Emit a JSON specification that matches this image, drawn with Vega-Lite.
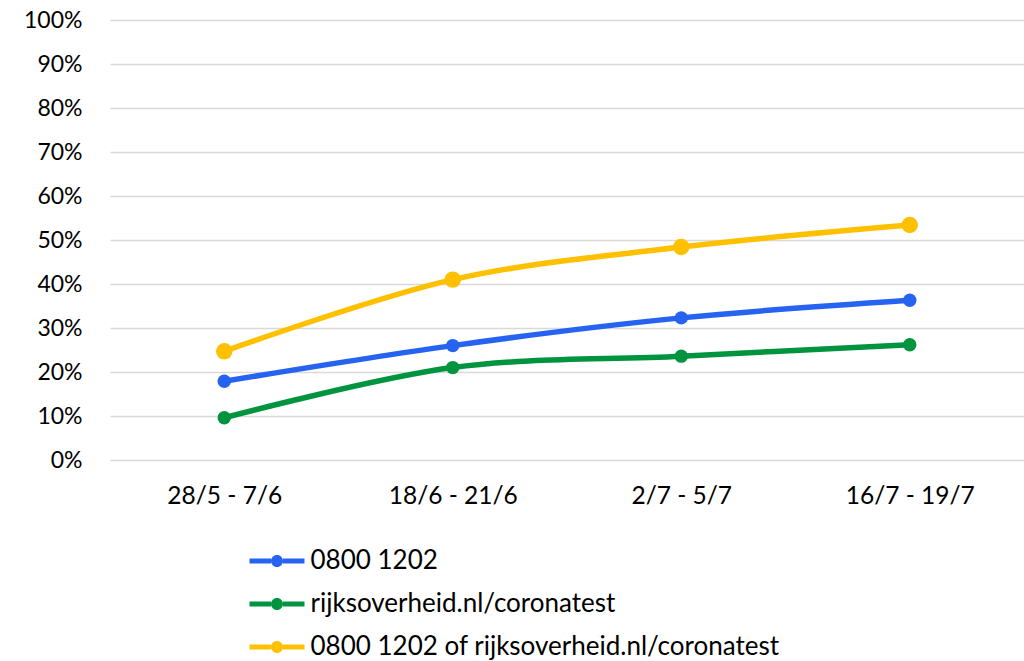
{
  "$schema": "https://vega.github.io/schema/vega-lite/v6.json",
  "autosize": "none",
  "width": 914,
  "height": 440,
  "padding": {"left": 110, "top": 20, "right": 0, "bottom": 201},
  "background": "white",
  "config": {
    "view": {"stroke": null},
    "font": "Lato",
    "axis": {"labelFont": "Lato", "labelFontSize": 23, "labelColor": "#000000"}
  },
  "data": {
    "values": [
      {"period": "28/5 - 7/6", "series": "0800 1202", "value": 0.179},
      {"period": "18/6 - 21/6", "series": "0800 1202", "value": 0.260},
      {"period": "2/7 - 5/7", "series": "0800 1202", "value": 0.323},
      {"period": "16/7 - 19/7", "series": "0800 1202", "value": 0.363},
      {"period": "28/5 - 7/6", "series": "rijksoverheid.nl/coronatest", "value": 0.096},
      {"period": "18/6 - 21/6", "series": "rijksoverheid.nl/coronatest", "value": 0.210},
      {"period": "2/7 - 5/7", "series": "rijksoverheid.nl/coronatest", "value": 0.236},
      {"period": "16/7 - 19/7", "series": "rijksoverheid.nl/coronatest", "value": 0.262},
      {"period": "28/5 - 7/6", "series": "0800 1202 of rijksoverheid.nl/coronatest", "value": 0.247},
      {"period": "18/6 - 21/6", "series": "0800 1202 of rijksoverheid.nl/coronatest", "value": 0.410},
      {"period": "2/7 - 5/7", "series": "0800 1202 of rijksoverheid.nl/coronatest", "value": 0.484},
      {"period": "16/7 - 19/7", "series": "0800 1202 of rijksoverheid.nl/coronatest", "value": 0.534}
    ]
  },
  "encoding": {
    "x": {
      "field": "period", "type": "ordinal", "sort": null,
      "scale": {"type": "point", "padding": 0.5},
      "axis": {"title": null, "labelAngle": 0, "labelFontSize": 24.5, "domain": false, "ticks": false, "grid": false, "labelPadding": 24, "labelOverlap": false}
    },
    "y": {
      "field": "value", "type": "quantitative",
      "scale": {"domain": [0, 1], "nice": false},
      "axis": {"title": null, "format": ".0%", "values": [0,0.1,0.2,0.3,0.4,0.5,0.6,0.7,0.8,0.9,1.0], "labelOverlap": false, "domain": false, "ticks": false, "grid": true, "gridColor": "#d9d9d9", "gridWidth": 1.5, "labelPadding": 28}
    },
    "color": {
      "field": "series", "type": "nominal",
      "sort": ["0800 1202", "rijksoverheid.nl/coronatest", "0800 1202 of rijksoverheid.nl/coronatest"],
      "scale": {
        "domain": ["0800 1202", "rijksoverheid.nl/coronatest", "0800 1202 of rijksoverheid.nl/coronatest"],
        "range": ["#2563f0", "#00943e", "#ffc000"]
      },
      "legend": {
        "title": null,
        "orient": "none",
        "legendX": 154,
        "legendY": 528,
        "direction": "vertical",
        "labelFont": "Lato",
        "labelFontSize": 26,
        "labelColor": "#000000",
        "labelOffset": 20.5,
        "labelLimit": 700,
        "rowPadding": 17,
        "symbolType": "M-2.75,-0.25H-0.6V0.25H-2.75Z M0.6,-0.25H2.75V0.25H0.6Z M-0.6,0A0.6,0.6 0 1,1 0.6,0A0.6,0.6 0 1,1 -0.6,0Z",
        "symbolSize": 400,
        "symbolStrokeWidth": 0,
        "encode": {
          "symbols": {"update": {"fill": {"scale": "color", "field": "value"}, "fillOpacity": {"value": 1}, "strokeWidth": {"value": 0}}}
        }
      }
    }
  },
  "layer": [
    {"mark": {"type": "line", "interpolate": "catmull-rom", "strokeWidth": 5.5}},
    {
      "mark": {"type": "point", "filled": true, "opacity": 1},
      "encoding": {
        "size": {
          "condition": {"test": "datum.series === '0800 1202 of rijksoverheid.nl/coronatest'", "value": 270},
          "value": 180
        }
      }
    }
  ]
}
